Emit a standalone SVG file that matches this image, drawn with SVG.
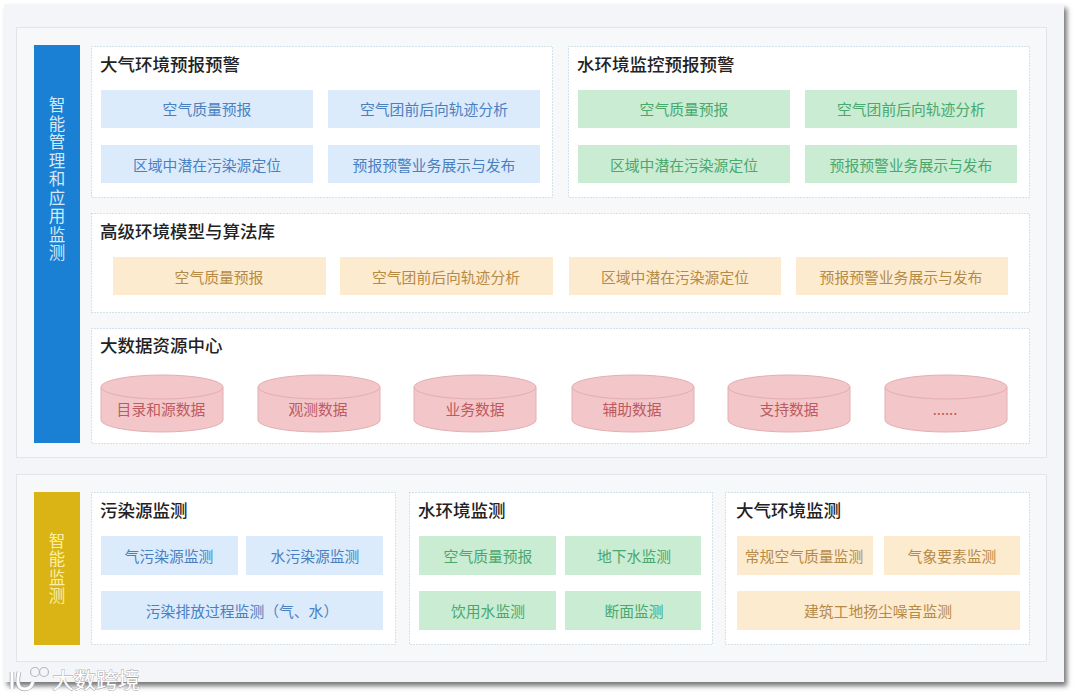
<svg xmlns="http://www.w3.org/2000/svg" width="1080" height="699" viewBox="0 0 1080 699">
<defs>
<filter id="sh" x="-3%" y="-3%" width="106%" height="106%"><feGaussianBlur stdDeviation="2.5"/></filter>
<style>
text{font-family:"Noto Sans CJK SC","Noto Sans",sans-serif;text-anchor:middle}
.panel{fill:#f7f8fa;stroke:#e1e4e9;stroke-width:1}
.dot{fill:#fff;stroke:#a9c6d6;stroke-width:1;stroke-dasharray:1 2}
.h{font-size:17.500px;fill:#222;text-anchor:start;font-weight:500}
.t{font-size:14.800px}
.b{fill:#dcebfc}.bt{fill:#4a80c0}
.g{fill:#c9ecd3}.gt{fill:#4aa86e}
.o{fill:#fdebd0}.ot{fill:#b58a45}
.cyl{fill:#f3c7c9;stroke:#e3aeb0;stroke-width:1}
.ct{fill:#bd5a5f}
.side{font-size:16.500px;writing-mode:vertical-rl;letter-spacing:2px}
.wm{font-size:22px;fill:#fff;stroke:#9a9ea5;stroke-width:0.8px;paint-order:stroke}
</style>
</defs>
<rect x="7" y="8" width="1060" height="678" fill="#777" filter="url(#sh)"/>
<rect x="4" y="4" width="1060" height="678" fill="#f3f5f9"/>
<rect class="panel" x="16.500" y="27.500" width="1030" height="430"/>
<rect class="panel" x="16.500" y="474.500" width="1030" height="187"/>

<g id="side-top"><rect x="34" y="45" width="46" height="398" fill="#1a80d4"/>
<text class="side" x="57" y="180" fill="#d5e8f8">智能管理和应用监测</text></g>
<g id="side-bottom"><rect x="34" y="492" width="46" height="153" fill="#d9b414"/>
<text class="side" x="57" y="569" fill="#fbefa8">智能监测</text></g>

<g id="air-warning"><rect class="dot" x="91.500" y="46.500" width="461" height="151"/><text class="h" x="100" y="71">大气环境预报预警</text>
<rect class="b" x="101" y="90" width="212" height="38"/><text class="t bt" x="207" y="115">空气质量预报</text>
<rect class="b" x="328" y="90" width="212" height="38"/><text class="t bt" x="434" y="115">空气团前后向轨迹分析</text>
<rect class="b" x="101" y="145" width="212" height="38"/><text class="t bt" x="207" y="171">区域中潜在污染源定位</text>
<rect class="b" x="328" y="145" width="212" height="38"/><text class="t bt" x="434" y="171">预报预警业务展示与发布</text></g>

<g id="water-warning"><rect class="dot" x="568.500" y="46.500" width="461" height="151"/><text class="h" x="577" y="71">水环境监控预报预警</text>
<rect class="g" x="578" y="90" width="212" height="38"/><text class="t gt" x="684" y="115">空气质量预报</text>
<rect class="g" x="805" y="90" width="212" height="38"/><text class="t gt" x="911" y="115">空气团前后向轨迹分析</text>
<rect class="g" x="578" y="145" width="212" height="38"/><text class="t gt" x="684" y="171">区域中潜在污染源定位</text>
<rect class="g" x="805" y="145" width="212" height="38"/><text class="t gt" x="911" y="171">预报预警业务展示与发布</text></g>

<g id="models"><rect class="dot" x="91.500" y="213.500" width="938" height="99"/><text class="h" x="100" y="238">高级环境模型与算法库</text>
<rect class="o" x="113" y="257" width="213" height="38"/><text class="t ot" x="219" y="283">空气质量预报</text>
<rect class="o" x="340" y="257" width="213" height="38"/><text class="t ot" x="446" y="283">空气团前后向轨迹分析</text>
<rect class="o" x="569" y="257" width="212" height="38"/><text class="t ot" x="675" y="283">区域中潜在污染源定位</text>
<rect class="o" x="796" y="257" width="212" height="38"/><text class="t ot" x="901" y="283">预报预警业务展示与发布</text></g>

<g id="bigdata"><rect class="dot" x="91.500" y="328.500" width="938" height="115"/><text class="h" x="100" y="352">大数据资源中心</text>
<g id="cyl1"><path class="cyl" d="M101 387V420A61 12 0 0 0 223 420V387"/><ellipse class="cyl" cx="162" cy="387" rx="61" ry="12"/><text class="t ct" x="161" y="415">目录和源数据</text></g>
<g id="cyl2"><path class="cyl" d="M258 387V420A61 12 0 0 0 380 420V387"/><ellipse class="cyl" cx="319" cy="387" rx="61" ry="12"/><text class="t ct" x="318" y="415">观测数据</text></g>
<g id="cyl3"><path class="cyl" d="M414 387V420A61 12 0 0 0 536 420V387"/><ellipse class="cyl" cx="475" cy="387" rx="61" ry="12"/><text class="t ct" x="475" y="415">业务数据</text></g>
<g id="cyl4"><path class="cyl" d="M572 387V420A61 12 0 0 0 694 420V387"/><ellipse class="cyl" cx="633" cy="387" rx="61" ry="12"/><text class="t ct" x="632" y="415">辅助数据</text></g>
<g id="cyl5"><path class="cyl" d="M728 387V420A61 12 0 0 0 850 420V387"/><ellipse class="cyl" cx="789" cy="387" rx="61" ry="12"/><text class="t ct" x="789" y="415">支持数据</text></g>
<g id="cyl6"><path class="cyl" d="M885 387V420A61 12 0 0 0 1007 420V387"/><ellipse class="cyl" cx="946" cy="387" rx="61" ry="12"/><text class="t ct" x="945" y="415">......</text></g></g>

<g id="pollution"><rect class="dot" x="91.500" y="492.500" width="304" height="152"/><text class="h" x="100" y="517">污染源监测</text>
<rect class="b" x="101" y="536" width="137" height="39"/><text class="t bt" x="169" y="562">气污染源监测</text>
<rect class="b" x="246" y="536" width="137" height="39"/><text class="t bt" x="315" y="562">水污染源监测</text>
<rect class="b" x="101" y="591" width="282" height="39"/><text class="t bt" x="242" y="617">污染排放过程监测（气、水）</text></g>

<g id="water-monitor"><rect class="dot" x="409.500" y="492.500" width="303" height="152"/><text class="h" x="418" y="517">水环境监测</text>
<rect class="g" x="419" y="536" width="137" height="39"/><text class="t gt" x="488" y="562">空气质量预报</text>
<rect class="g" x="565" y="536" width="136" height="39"/><text class="t gt" x="634" y="562">地下水监测</text>
<rect class="g" x="419" y="591" width="137" height="39"/><text class="t gt" x="488" y="617">饮用水监测</text>
<rect class="g" x="565" y="591" width="136" height="39"/><text class="t gt" x="634" y="617">断面监测</text></g>

<g id="air-monitor"><rect class="dot" x="725.500" y="492.500" width="304" height="152"/><text class="h" x="736" y="517">大气环境监测</text>
<rect class="o" x="737" y="536" width="136" height="39"/><text class="t ot" x="804" y="562">常规空气质量监测</text>
<rect class="o" x="884" y="536" width="136" height="39"/><text class="t ot" x="952" y="562">气象要素监测</text>
<rect class="o" x="737" y="591" width="283" height="39"/><text class="t ot" x="878" y="617">建筑工地扬尘噪音监测</text></g>

<g id="connectors"></g>
<g id="watermark">
<text class="wm" x="96" y="688">大数跨境</text>
<path d="M12 672V689M19 672Q15 689 25 689Q31 689 33 682" fill="none" stroke="#a5a9af" stroke-width="4.500"/>
<path d="M12 672V689M19 672Q15 689 25 689Q31 689 33 682" fill="none" stroke="#fff" stroke-width="3"/>
<circle cx="35" cy="672" r="4.500" fill="none" stroke="#b5b8bd" stroke-width="1.200"/><circle cx="44" cy="672" r="4.500" fill="none" stroke="#b5b8bd" stroke-width="1.200"/>
</g>
</svg>
